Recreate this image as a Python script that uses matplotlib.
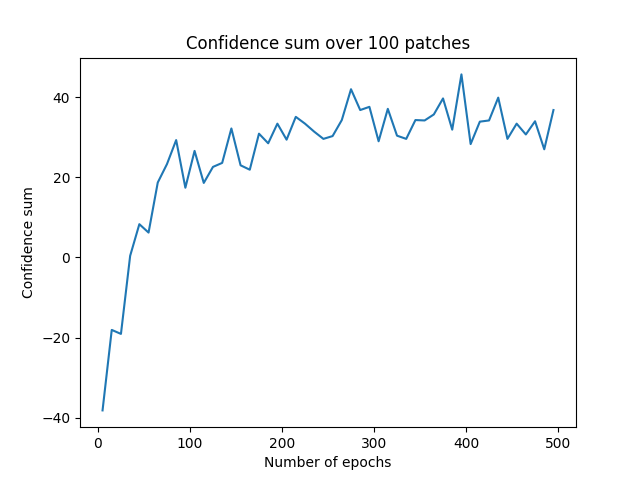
import matplotlib
matplotlib.use("Agg")
import matplotlib.pyplot as plt
import numpy as np

epochs = list(range(5, 500, 10))
confidence = [-38.2, -18.1, -19.1, 0.4, 8.3, 6.2, 18.7, 23.3, 29.3, 17.4,
              26.6, 18.6, 22.6, 23.6, 32.2, 23.0, 21.9, 30.9, 28.5, 33.4,
              29.4, 35.1, 33.4, 31.4, 29.6, 30.3, 34.3, 42.0, 36.8, 37.6,
              29.0, 37.1, 30.4, 29.6, 34.3, 34.2, 35.7, 39.7, 31.9, 45.7,
              28.3, 33.9, 34.2, 39.9, 29.6, 33.4, 30.7, 34.0, 27.0, 36.8]

fig, ax = plt.subplots(figsize=(6.4, 4.8), dpi=100)
ax.plot(epochs, confidence)
ax.set_title("Confidence sum over 100 patches")
ax.set_xlabel("Number of epochs")
ax.set_ylabel("Confidence sum")
fig.savefig("out.png")
